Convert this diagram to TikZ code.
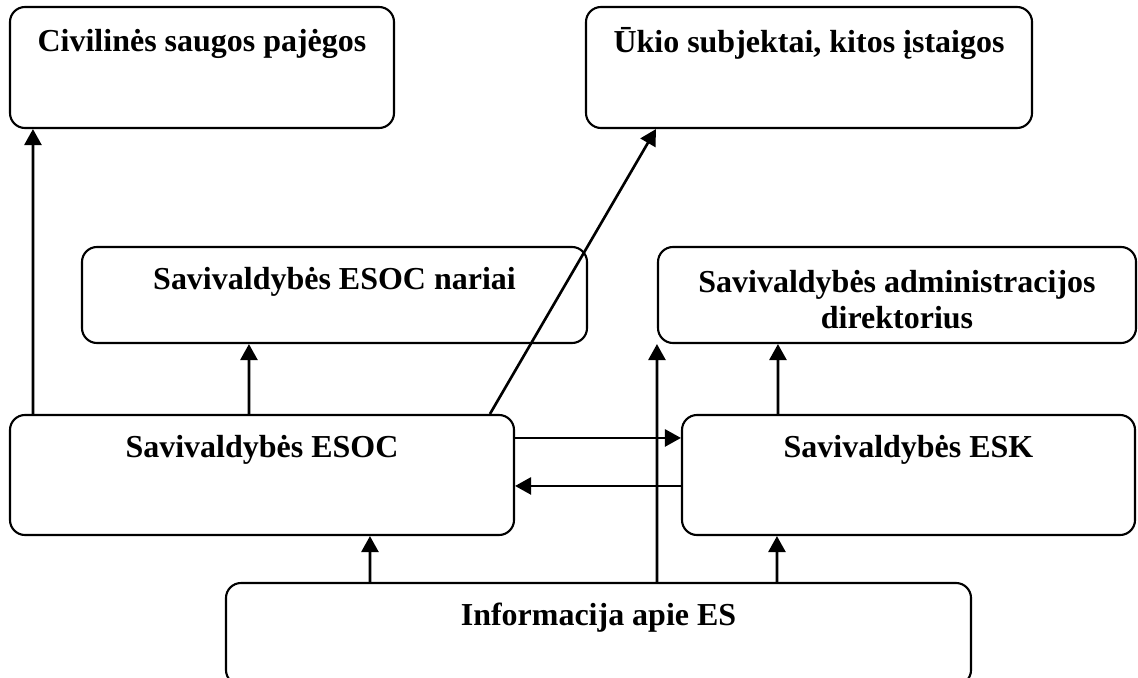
\documentclass[tikz,border=0pt]{standalone}
\usepackage{fontspec}
\setmainfont{Liberation Serif}
\usetikzlibrary{arrows.meta}

\begin{document}
\begin{tikzpicture}[box/.style={draw, rounded corners=0.3cm, line width=1.2pt},
        txt/.style={font=\fontsize{18.2}{20.5}\selectfont\bfseries, align=center, inner sep=0pt},
        arr/.style={line width=1.5pt, -{Triangle[width=0.34cm,length=0.32cm]}}]
            \useasboundingbox (0,0) rectangle (22.76,-13.54);
            % boxes
            \node[box, minimum width=7.68cm, minimum height=2.42cm] (civ) at (4.04,-1.35) {};
            \node[box, minimum width=8.92cm, minimum height=2.42cm] (ukio) at (16.18,-1.35) {};
            \node[box, minimum width=10.1cm, minimum height=1.92cm] (nariai) at (6.69,-5.9) {};
            \node[box, minimum width=9.56cm, minimum height=1.92cm] (direk) at (17.94,-5.9) {};
            \node[box, minimum width=10.08cm, minimum height=2.4cm] (esoc) at (5.24,-9.5) {};
            \node[box, minimum width=9.06cm, minimum height=2.4cm] (esk) at (18.17,-9.5) {};
            \node[box, minimum width=14.9cm, minimum height=2.04cm] (info) at (11.97,-12.68) {};
            % texts
            \node[txt, yshift=-0.76cm] (civtxt) at (civ.north) {Civilinės saugos pajėgos};
            \node[txt, yshift=-0.76cm] (ukiotxt) at (ukio.north) {Ūkio subjektai, kitos įstaigos};
            \node[txt, yshift=-0.72cm] (nariaitxt) at (nariai.north) {Savivaldybės ESOC nariai};
            \node[txt, yshift=-1.08cm] (direktxt) at (direk.north) {Savivaldybės administracijos\\direktorius};
            \node[txt, yshift=-0.72cm] (esoctxt) at (esoc.north) {Savivaldybės ESOC};
            \node[txt, yshift=-0.72cm] (esktxt) at (esk.north) {Savivaldybės ESK};
            \node[txt, yshift=-0.72cm] (infotxt) at (info.north) {Informacija apie ES};
            % arrows
            \draw[arr]([xshift=0.48cm]esoc.north west)--([xshift=0.48cm]civ.south west);
            \draw[arr]([xshift=4.8cm]esoc.north west)--([xshift=3.36cm]nariai.south west);
            \draw[arr]([xshift=9.62cm]esoc.north west)--([xshift=1.42cm]ukio.south west);
            \draw[arr]([yshift=-0.48cm]esoc.north east)--([yshift=-0.48cm]esk.north west);
            \draw[arr]([yshift=-1.44cm]esk.north west)--([yshift=-1.44cm]esoc.north east);
            \draw[arr]([xshift=2.9cm]info.north west)--([xshift=7.22cm]esoc.south west);
            \draw[arr]([xshift=8.64cm]info.north west)--(direk.south west);
            \draw[arr]([xshift=11.04cm]info.north west)--([xshift=1.92cm]esk.south west);
            \draw[arr]([xshift=1.94cm]esk.north west)--([xshift=2.42cm]direk.south west);
        \end{tikzpicture}
\end{document}
